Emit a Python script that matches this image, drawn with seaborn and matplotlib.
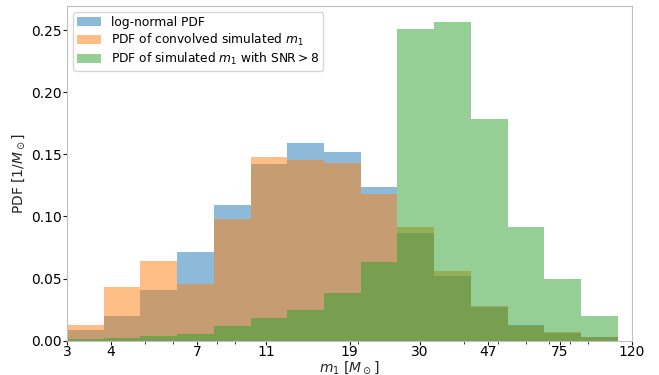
import numpy as np
import pandas as pd
import matplotlib
matplotlib.use("Agg")
import matplotlib.pyplot as plt
import seaborn as sns

# Log-spaced bin edges for primary mass m1 [M_sun]
m_min, m_max, n_bins = 3.0, 109.4, 15
log_edges = np.linspace(np.log10(m_min), np.log10(m_max), n_bins + 1)
log_centers = 0.5 * (log_edges[:-1] + log_edges[1:])

# PDF values per bin
pdf_lognormal = [0.0090, 0.0199, 0.0407, 0.0716, 0.1090, 0.1423, 0.1587, 0.1517,
                 0.1238, 0.0868, 0.0520, 0.0273, 0.0126, 0.0062, 0.0026]
pdf_convolved = [0.0124, 0.0429, 0.0640, 0.0456, 0.0976, 0.1477, 0.1458, 0.1428,
                 0.1179, 0.0912, 0.0560, 0.0279, 0.0122, 0.0066, 0.0030]
pdf_snr8 = [0.0010, 0.0025, 0.0038, 0.0054, 0.0118, 0.0182, 0.0247, 0.0386,
            0.0635, 0.2506, 0.2565, 0.1780, 0.0912, 0.0493, 0.0198]

labels = ["log-normal PDF",
          r"PDF of convolved simulated $m_1$",
          r"PDF of simulated $m_1$ with SNR$>8$"]

tick_values = [3, 4, 7, 11, 19, 30, 47, 75, 120]
tick_labels = [str(v) for v in tick_values]

sns.set_style("ticks", {"axes.edgecolor": "0.75", "xtick.color": "0.1",
                        "ytick.color": "0.1", "text.color": "black"})
plt.rcParams["font.family"] = ["DejaVu Sans"]

fig, ax = plt.subplots(figsize=(6.59, 3.75), dpi=100)
fig.subplots_adjust(left=0.1017, right=0.959, top=0.984, bottom=0.0915)

colors = sns.color_palette("tab10", 3)
for values, label, color in zip([pdf_lognormal, pdf_convolved, pdf_snr8], labels, colors):
    df = pd.DataFrame({"m1": 10 ** log_centers, "pdf": values})
    sns.histplot(data=df, x="m1", weights="pdf", bins=list(log_edges), stat="count",
                 log_scale=True, color=color, alpha=0.5, linewidth=0,
                 label=label, ax=ax)

ax.set_xlim(m_min, 120)
ax.set_xticks(tick_values, labels=tick_labels)
ax.xaxis.set_minor_formatter(matplotlib.ticker.NullFormatter())
ax.tick_params(axis="both", which="major", labelsize=10, labelcolor="black",
               length=3, width=0.8, pad=0.6)
ax.tick_params(axis="x", which="major", pad=0.2)
ax.tick_params(axis="both", which="minor", length=1.8, width=0.6)
ax.set_xlabel(r"$m_1$ [$M_\odot$]", fontsize=10, labelpad=0)
ax.set_ylabel(r"PDF [1/$M_\odot$]", fontsize=10, labelpad=3)
ax.legend(loc="upper left", fontsize=8.8, labelspacing=0.25, borderpad=0.3,
          handletextpad=0.8)

fig.savefig("out.png", dpi=100)
